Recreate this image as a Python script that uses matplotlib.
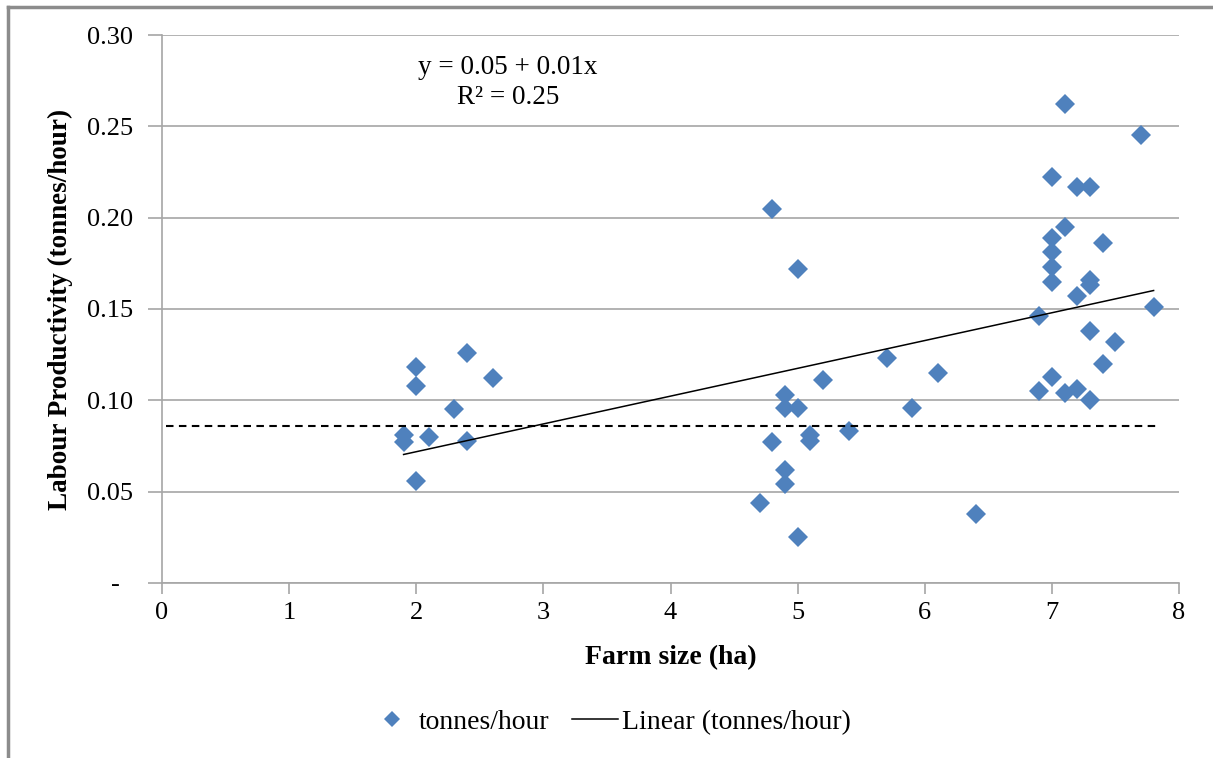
import numpy as np
import matplotlib
matplotlib.use("Agg")
import matplotlib.pyplot as plt
from matplotlib.lines import Line2D

# farm size (ha) and labour productivity (tonnes/hour)
farm_size = [1.9, 1.9, 2.0, 2.0, 2.0, 2.1, 2.3, 2.4, 2.4, 2.6,
             4.7, 4.8, 4.8, 4.9, 4.9, 5.0, 4.9, 4.9, 5.0, 5.0,
             5.1, 5.1, 5.2, 5.4, 5.7, 5.9, 6.1, 6.4,
             7.1, 7.7, 7.0, 7.2, 7.3, 7.1, 7.0, 7.0, 7.0, 7.0,
             7.4, 7.3, 7.3, 7.2, 6.9, 7.8, 7.3, 7.5, 7.4, 7.0,
             6.9, 7.1, 7.2, 7.3]
tonnes_hour = [0.081, 0.077, 0.118, 0.108, 0.056, 0.080, 0.095, 0.126, 0.078, 0.112,
               0.044, 0.205, 0.077, 0.103, 0.096, 0.096, 0.062, 0.054, 0.172, 0.025,
               0.081, 0.078, 0.111, 0.083, 0.123, 0.096, 0.115, 0.038,
               0.262, 0.245, 0.222, 0.217, 0.217, 0.195, 0.189, 0.181, 0.173, 0.165,
               0.186, 0.166, 0.163, 0.157, 0.146, 0.151, 0.138, 0.132, 0.120, 0.113,
               0.105, 0.104, 0.106, 0.100]
ref_level = 0.086   # dashed reference line
eq_text = "y = 0.05 + 0.01x\nR\u00b2 = 0.25"

plt.rcParams['font.family'] = ['Liberation Serif', 'DejaVu Serif']

fig = plt.figure(figsize=(12.13, 7.58), dpi=100)
ax = fig.add_axes([0.1336, 0.2309, 0.8384, 0.7229])

grid_c = '#A6A6A6'
x = np.array(farm_size)
y = np.array(tonnes_hour)

ax.plot(x, y, linestyle='none', marker='D', ms=10, color='#4F81BD',
        markeredgewidth=0, zorder=3)

# linear trend
slope, intercept = np.polyfit(x, y, 1)
xs = np.array([x.min(), x.max()])
ax.plot(xs, intercept + slope * xs, color='black', lw=1.1, zorder=4)

ax.plot([0.03, 7.82], [ref_level, ref_level], color='black', lw=1.5,
        linestyle=(0, (3.6, 2.6)), zorder=4)

ax.text(2.72, 0.274, eq_text, ha='center', va='center', fontsize=19.5,
        linespacing=1.22)

ax.set_xlim(0, 8)
ax.set_ylim(0, 0.30)
ax.set_xticks(range(0, 9))
yt = np.arange(0, 0.301, 0.05)
ax.set_yticks(yt)
ax.set_yticklabels(['-  '] + ['%.2f' % v for v in yt[1:]])
ax.yaxis.grid(True, color=grid_c, lw=1.2)
ax.set_axisbelow(True)
for s in ['top', 'right']:
    ax.spines[s].set_visible(False)
for s in ['left', 'bottom']:
    ax.spines[s].set_color(grid_c)
    ax.spines[s].set_linewidth(1.2)
ax.tick_params(axis='y', length=10, width=1.2, color=grid_c, labelsize=19, pad=11)
ax.tick_params(axis='x', length=8, width=1.2, color=grid_c, labelsize=19, pad=6)

ax.set_xlabel('Farm size (ha)', fontsize=20, fontweight='bold', labelpad=15)
ax.set_ylabel('Labour Productivity (tonnes/hour)', fontsize=19.5,
              fontweight='bold', labelpad=10)

handles = [Line2D([], [], linestyle='none', marker='D', ms=8, color='#4F81BD',
                  markeredgewidth=0),
           Line2D([], [], color='black', lw=1.1)]
fig.legend(handles, ['tonnes/hour', 'Linear (tonnes/hour)'], loc='center',
           bbox_to_anchor=(0.503, 0.0475), ncol=2, frameon=False, fontsize=20,
           handlelength=1.65, columnspacing=0.8, handletextpad=0.15)

# outer chart frame
fig.add_artist(Line2D([0.0062, 0.0062], [0, 0.991], color='#8C8C8C', lw=2.5,
                      transform=fig.transFigure))
fig.add_artist(Line2D([0.0062, 1], [0.991, 0.991], color='#8C8C8C', lw=2.5,
                      transform=fig.transFigure))

fig.savefig('out.png', dpi=100)
